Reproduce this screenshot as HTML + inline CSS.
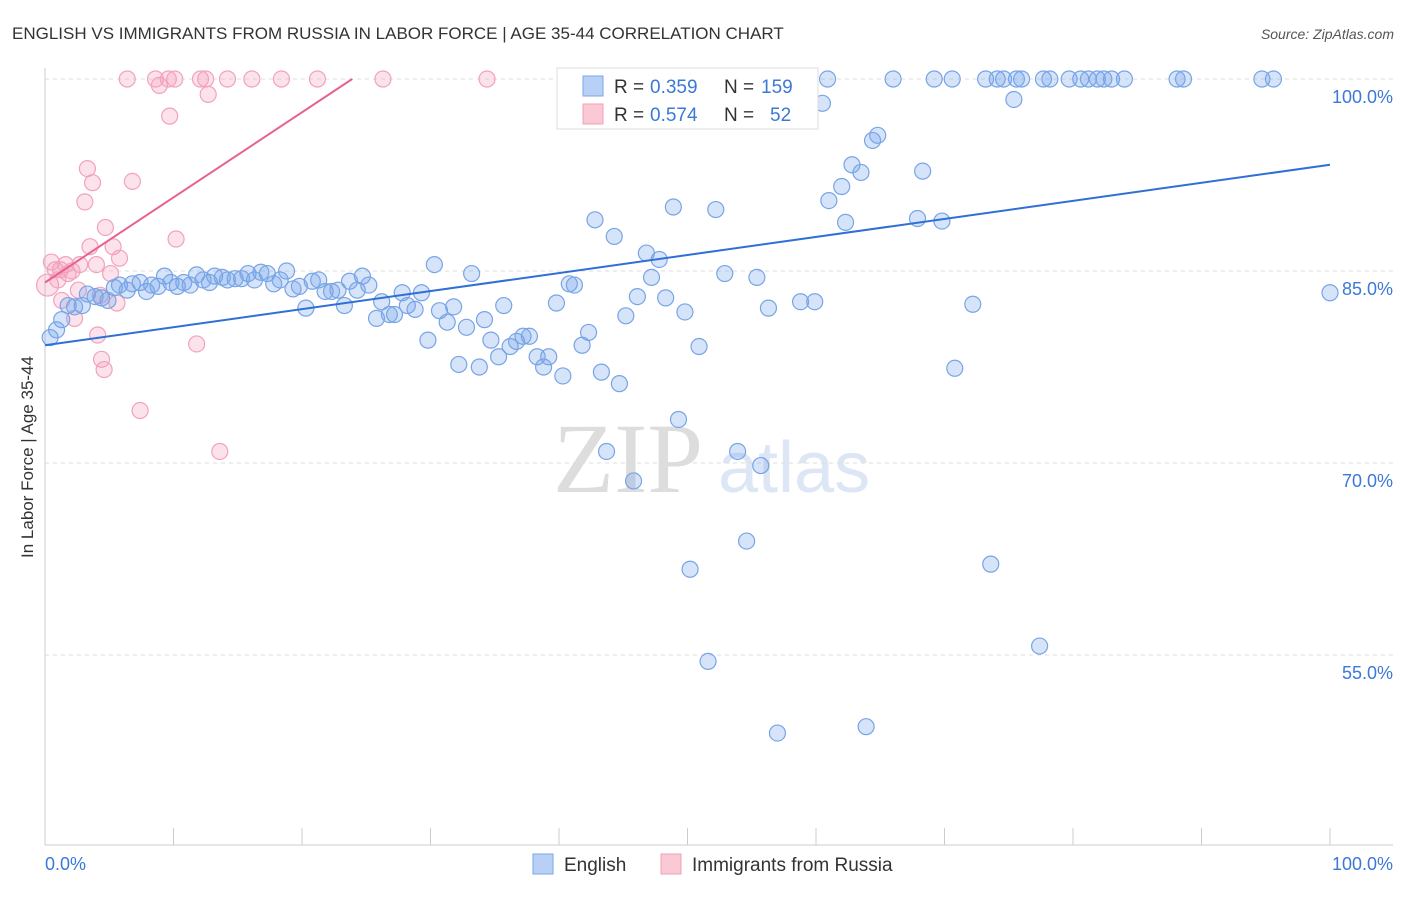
<!DOCTYPE html>
<html><head><meta charset="utf-8"><style>
body{margin:0;background:#fff;width:1406px;height:892px;overflow:hidden;font-family:"Liberation Sans",sans-serif}
</style></head><body>
<svg id="chart" width="1406" height="892" xmlns="http://www.w3.org/2000/svg" font-family="Liberation Sans, sans-serif">
<text x="12" y="39" font-size="17" fill="#333">ENGLISH VS IMMIGRANTS FROM RUSSIA IN LABOR FORCE | AGE 35-44 CORRELATION CHART</text>
<text x="1394" y="39" font-size="14" fill="#555" text-anchor="end" font-style="italic">Source: ZipAtlas.com</text>
<text transform="translate(33,457) rotate(-90)" font-size="17" fill="#333" text-anchor="middle">In Labor Force | Age 35-44</text>
<g>
<text x="553" y="492" font-size="100" fill="#ddd" font-family="Liberation Serif, serif">ZIP</text>
<text x="718" y="492" font-size="72" fill="#dce6f5">atlas</text>
</g>
<g id="grid"></g><g id="pts"></g><g id="lines"></g>
<g>
<rect x="557" y="68" width="261" height="61" fill="#fff" stroke="#ddd"/>
<rect x="583" y="76" width="20" height="20" fill="#b8d0f5" stroke="#7aa6e8"/>
<rect x="583" y="104" width="20" height="20" fill="#fbc8d6" stroke="#f0a0b8"/>
<text x="614" y="93" font-size="19" fill="#333">R =</text>
<text x="650" y="93" font-size="19" fill="#3b78d8">0.359</text>
<text x="724" y="93" font-size="19" fill="#333">N =</text>
<text x="761" y="93" font-size="19" fill="#3b78d8">159</text>
<text x="614" y="121" font-size="19" fill="#333">R =</text>
<text x="650" y="121" font-size="19" fill="#3b78d8">0.574</text>
<text x="724" y="121" font-size="19" fill="#333">N =</text>
<text x="770" y="121" font-size="19" fill="#3b78d8">52</text>
</g>
<g>
<rect x="533" y="854" width="20" height="20" fill="#b8d0f5" stroke="#7aa6e8"/>
<text x="564" y="871" font-size="19" fill="#333">English</text>
<rect x="661" y="854" width="20" height="20" fill="#fbc8d6" stroke="#f0a0b8"/>
<text x="692" y="871" font-size="19" fill="#333">Immigrants from Russia</text>
</g>
<text x="45" y="870" font-size="18" fill="#3b78d8">0.0%</text>
<text x="1393" y="870" font-size="18" fill="#3b78d8" text-anchor="end">100.0%</text>
</svg>
<script>
const yTicks=[100,85,70,55];
const xTicks=[0,10,20,30,40,50,60,70,80,90,100];
const blueX=[0.4,0.9,1.3,1.8,2.3,2.9,3.3,3.9,4.4,4.9,5.4,5.8,6.4,6.8,7.4,7.9,8.3,8.8,9.3,9.8,10.3,10.8,11.3,11.8,12.3,12.8,13.2,13.8,14.2,14.8,15.3,15.8,16.3,16.8,17.3,17.8,18.3,18.8,19.3,19.8,20.3,20.8,21.3,21.8,22.3,22.8,23.3,23.7,24.3,24.7,25.2,25.8,26.2,26.8,27.2,27.8,28.2,28.8,29.3,29.8,30.3,30.7,31.3,31.8,32.2,32.8,33.2,33.8,34.2,34.7,35.3,35.7,36.2,36.7,37.2,37.7,38.3,38.8,39.2,39.8,40.3,40.8,41.2,41.8,42.3,42.8,43.3,43.7,44.3,44.7,45.2,45.8,46.1,46.8,47.2,47.8,48.3,48.9,49.3,49.8,50.2,50.9,51.6,52.2,52.9,53.9,54.6,55.4,55.7,56.3,57.0,57.2,57.5,58.1,58.8,59.9,60.5,60.9,61.0,62.0,62.3,62.8,63.5,63.9,64.4,64.8,66.0,67.9,68.3,69.2,69.8,70.6,70.8,72.2,73.2,73.6,74.1,74.6,75.4,75.6,76.0,77.4,77.7,78.2,79.7,80.6,81.2,81.9,82.4,83.0,84.0,88.1,88.6,94.7,95.6,100];
const blueY=[79.8,80.4,81.2,82.3,82.2,82.3,83.2,83.0,82.9,82.7,83.7,83.9,83.5,84.0,84.1,83.4,83.9,83.8,84.6,84.1,83.8,84.1,83.9,84.7,84.3,84.1,84.6,84.5,84.3,84.4,84.4,84.8,84.3,84.9,84.8,84.0,84.3,85.0,83.6,83.8,82.1,84.2,84.3,83.4,83.4,83.5,82.3,84.2,83.5,84.6,83.9,81.3,82.6,81.6,81.6,83.3,82.3,82.0,83.3,79.6,85.5,81.9,81.0,82.2,77.7,80.6,84.8,77.5,81.2,79.6,78.3,82.3,79.1,79.5,79.9,79.9,78.3,77.5,78.3,82.5,76.8,84.0,83.9,79.2,80.2,89.0,77.1,70.9,87.7,76.2,81.5,68.6,83.0,86.4,84.5,85.9,82.9,90.0,73.4,81.8,61.7,79.1,54.5,89.8,84.8,70.9,63.9,84.5,69.8,82.1,48.9,100,100,100,82.6,82.6,98.1,100,90.5,91.6,88.8,93.3,92.7,49.4,95.2,95.6,100,89.1,92.8,100,88.9,100,77.4,82.4,100,62.1,100,100,98.4,100,100,55.7,100,100,100,100,100,100,100,100,100,100,100,100,100,83.3];
const pinkX=[0.2,0.5,0.8,1.2,1.6,1.8,2.1,2.3,2.6,3.1,3.3,3.5,3.7,4.0,4.1,4.4,4.6,4.7,5.1,5.3,5.6,5.8,6.4,6.8,7.4,8.6,8.9,9.6,9.7,10.1,10.2,11.8,12.1,12.5,12.7,13.6,14.2,16.1,18.4,21.2,26.3,34.4,1.3,2.7,1.0,4.3];
const pinkY=[83.9,85.7,85.1,85.1,85.5,84.8,85.0,81.3,83.5,90.4,93.0,86.9,91.9,85.5,80.0,78.1,77.3,88.4,84.8,86.9,82.5,86.0,100,92.0,74.1,100,99.5,100,97.1,100,87.5,79.3,100,100,98.8,70.9,100,100,100,100,100,100,82.7,85.5,84.3,83.1];
const blueFit=[79.2,93.3];
const pinkFit=[84.1,0.665];
const NS="http://www.w3.org/2000/svg";
const X=v=>45+v*12.85, Y=v=>79+(100-v)*12.8;
function mk(tag,attrs,parent){const e=document.createElementNS(NS,tag);for(const k in attrs)e.setAttribute(k,attrs[k]);parent.appendChild(e);return e;}
const grid=document.getElementById('grid');
mk('line',{x1:45,y1:68,x2:45,y2:845,stroke:'#ccc'},grid);
mk('line',{x1:45,y1:845,x2:1393,y2:845,stroke:'#ccc'},grid);
yTicks.forEach(t=>{
 const l=mk('line',{x1:45,y1:Y(t),x2:1393,y2:Y(t),stroke:'#ddd','stroke-dasharray':'4,4'},grid);
 
 
 const tx=mk('text',{x:1393,y:Y(t)+24,'font-size':18,fill:'#3b78d8','text-anchor':'end'},grid);
 tx.textContent=t.toFixed(1)+'%';
 
 
});
xTicks.forEach(t=>{
 const l=mk('line',{x1:X(t),y1:828,x2:X(t),y2:845,stroke:'#ccc'},grid);
 
 
});
const pts=document.getElementById('pts');
pinkX.forEach((x,i)=>{
 const c=mk('circle',{cx:X(x),cy:Y(pinkY[i]),r:i===0?11:8,fill:'rgba(244,160,188,0.3)',stroke:'#f2a2bc','stroke-width':1.2},pts);
 
 
});
blueX.forEach((x,i)=>{
 const c=mk('circle',{cx:X(x),cy:Y(blueY[i]),r:8,fill:'rgba(120,165,235,0.3)',stroke:'#78a4e6','stroke-width':1.2},pts);
 
 
});
const lines=document.getElementById('lines');
const bl=mk('line',{x1:X(0),y1:Y(blueFit[0]),x2:X(100),y2:Y(blueFit[1]),stroke:'#2f6fd6','stroke-width':2},lines);


const pEnd=(100-pinkFit[0])/pinkFit[1];
const pl=mk('line',{x1:X(0),y1:Y(pinkFit[0]),x2:X(pEnd),y2:Y(100),stroke:'#e8628c','stroke-width':2},lines);


</script>
</body></html>
